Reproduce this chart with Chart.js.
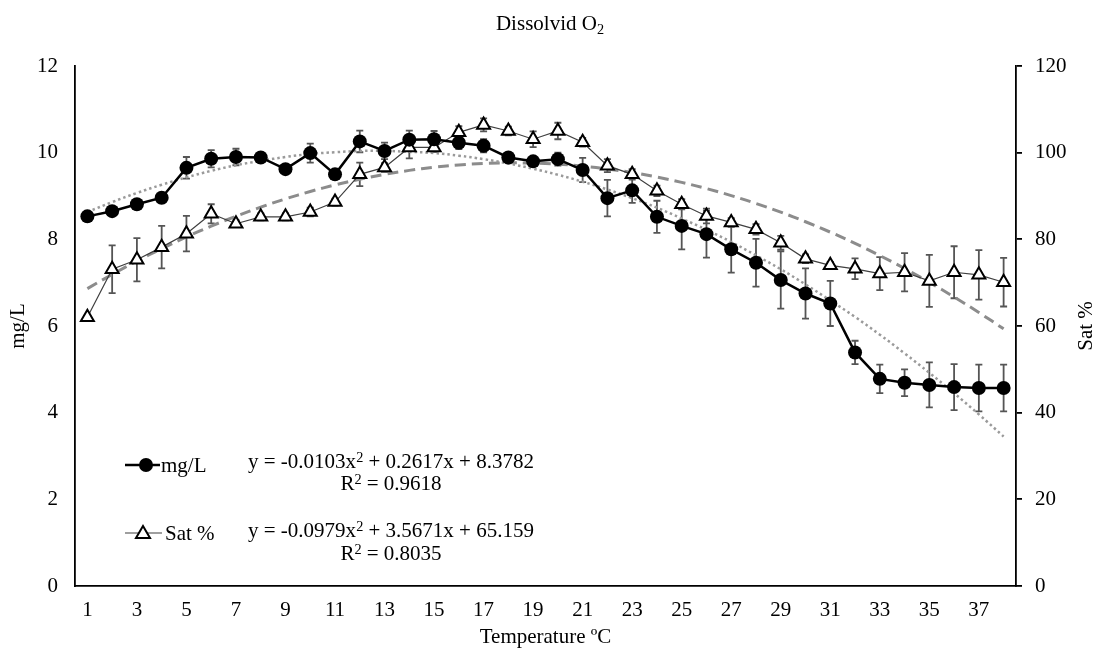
<!DOCTYPE html>
<html>
<head>
<meta charset="utf-8">
<script src="https://cdn.jsdelivr.net/npm/chart.js@4.4.1/dist/chart.umd.min.js"></script>
<style>
  body { margin: 0; background: #fff; }
  #wrap { position: relative; width: 1096px; height: 652px; font-family: "Liberation Serif", "Times New Roman", serif; color: #000; }
  #chart { position: absolute; left: 0; top: 0; }
  .t { position: absolute; white-space: nowrap; font-size: 21px; line-height: 22px; }
  .c { text-align: center; }
  .sup { font-size: 0.68em; position: relative; top: -0.45em; }
  .sub { font-size: 0.68em; position: relative; top: 0.3em; }
  svg { position: absolute; }
</style>
</head>
<body>
<div id="wrap">
  <canvas id="chart" width="1096" height="652"></canvas>

  <div class="t c" style="left:0; width:1100px; top:12px;">Dissolvid O<span class="sub">2</span></div>

  <div class="t" style="left:1074px; top:315px; width:22px; height:22px;">
    <div style="position:absolute; left:-20px; top:0; width:62px; text-align:center; transform:rotate(-90deg);">Sat %</div>
  </div>

  <svg style="left:120px; top:455px;" width="44" height="20">
    <line x1="5" y1="10" x2="40" y2="10" stroke="#000" stroke-width="2.5"/>
    <circle cx="26" cy="10" r="7" fill="#000"/>
  </svg>
  <div class="t" style="left:161px; top:454px;">mg/L</div>
  <div class="t c" style="left:241px; width:300px; top:450px;">y = -0.0103x<span class="sup">2</span> + 0.2617x + 8.3782</div>
  <div class="t c" style="left:241px; width:300px; top:472px;">R<span class="sup">2</span> = 0.9618</div>

  <svg style="left:120px; top:523px;" width="46" height="20">
    <line x1="5" y1="10" x2="42" y2="10" stroke="#404040" stroke-width="1.2"/>
    <polygon points="23,3 30,15 16,15" fill="#fff" stroke="#000" stroke-width="2"/>
  </svg>
  <div class="t" style="left:165px; top:522px;">Sat %</div>
  <div class="t c" style="left:241px; width:300px; top:519px;">y = -0.0979x<span class="sup">2</span> + 3.5671x + 65.159</div>
  <div class="t c" style="left:241px; width:300px; top:542px;">R<span class="sup">2</span> = 0.8035</div>
</div>

<script>
const temps = ['1','2','3','4','5','6','7','8','9','10','11','12','13','14','15','16','17','18','19',
  '20','21','22','23','24','25','26','27','28','29','30','31','32','33','34','35','36','37','38'];

// measured means
const mgL = [8.53, 8.65, 8.81, 8.96, 9.65, 9.86, 9.9, 9.89, 9.62, 9.99, 9.5, 10.26, 10.04, 10.3, 10.31,
  10.23, 10.16, 9.89, 9.8, 9.85, 9.6, 8.95, 9.13, 8.52, 8.31, 8.12, 7.77, 7.46, 7.06, 6.75, 6.52,
  5.39, 4.78, 4.69, 4.64, 4.59, 4.57, 4.57];
const satPct = [62.0, 73.1, 75.3, 78.2, 81.3, 85.9, 83.6, 85.2, 85.2, 86.3, 88.6, 95.0, 96.6, 101.2, 101.2,
  104.7, 106.4, 105.0, 103.1, 105.0, 102.4, 97.0, 95.0, 91.2, 88.1, 85.4, 83.9, 82.3, 79.2, 75.5, 74.0,
  73.2, 72.1, 72.4, 70.4, 72.4, 71.8, 70.1];

// half length of the error bars
const mgErr = [0.05, 0.05, 0.05, 0.05, 0.25, 0.2, 0.19, 0.1, 0.1, 0.22, 0.1, 0.25, 0.19, 0.21, 0.19,
  0.15, 0.15, 0.1, 0.1, 0.15, 0.28, 0.42, 0.29, 0.37, 0.54, 0.54, 0.54, 0.55, 0.66, 0.58, 0.52,
  0.27, 0.33, 0.31, 0.52, 0.53, 0.54, 0.54];
const satErr = [0.5, 5.5, 5.0, 4.9, 4.1, 2.2, 0.8, 0.8, 0.8, 1.0, 0.8, 2.7, 1.0, 2.5, 1.0,
  1.4, 1.5, 1.0, 1.8, 1.9, 1.0, 1.5, 1.2, 1.2, 1.2, 1.7, 1.0, 1.2, 1.6, 1.0, 0.8,
  2.4, 3.8, 4.4, 6.0, 6.0, 5.7, 5.6];

// polynomial trend lines
const mgTrend = [8.63, 8.86, 9.07, 9.26, 9.43, 9.58, 9.71, 9.81, 9.90, 9.97, 10.01, 10.04, 10.04, 10.02,
  9.99, 9.93, 9.85, 9.75, 9.63, 9.49, 9.33, 9.15, 8.95, 8.73, 8.48, 8.22, 7.94, 7.63, 7.31, 6.96,
  6.59, 6.21, 5.80, 5.37, 4.92, 4.45, 3.96, 3.45];
const satTrend = [68.63, 71.90, 74.98, 77.86, 80.55, 83.04, 85.33, 87.43, 89.33, 91.04, 92.55, 93.87,
  94.99, 95.91, 96.64, 97.17, 97.51, 97.65, 97.59, 97.34, 96.89, 96.25, 95.41, 94.38, 93.15, 91.72,
  90.10, 88.28, 86.27, 84.06, 81.66, 79.06, 76.26, 73.27, 70.08, 66.70, 63.12, 59.34];

const mgTicks = [0, 2, 4, 6, 8, 10, 12];
const satTicks = [0, 20, 40, 60, 80, 100, 120];

const FONT = { family: '"Liberation Serif", "Times New Roman", serif', size: 21 };

// error bars are drawn under the markers
const errorBars = {
  id: 'errorBars',
  beforeDatasetsDraw(chart) {
    const ctx = chart.ctx;
    ctx.save();
    ctx.strokeStyle = '#555';
    ctx.lineWidth = 1.8;
    chart.data.datasets.forEach((ds, i) => {
      if (!ds.errors) return;
      const meta = chart.getDatasetMeta(i);
      const yScale = chart.scales[ds.yAxisID];
      meta.data.forEach((pt, j) => {
        const v = ds.data[j], e = ds.errors[j];
        const top = yScale.getPixelForValue(v + e);
        const bot = yScale.getPixelForValue(v - e);
        ctx.beginPath();
        ctx.moveTo(pt.x, top); ctx.lineTo(pt.x, bot);
        ctx.moveTo(pt.x - 3.5, top); ctx.lineTo(pt.x + 3.5, top);
        ctx.moveTo(pt.x - 3.5, bot); ctx.lineTo(pt.x + 3.5, bot);
        ctx.stroke();
      });
    });
    ctx.restore();
  }
};

new Chart(document.getElementById('chart'), {
  type: 'line',
  data: {
    labels: temps,
    datasets: [
      {
        label: 'mg/L', data: mgL, errors: mgErr, yAxisID: 'y', order: 0,
        borderColor: '#000', borderWidth: 2.5,
        pointStyle: 'circle', pointRadius: 7, pointBackgroundColor: '#000', pointBorderWidth: 0
      },
      {
        label: 'Sat %', data: satPct, errors: satErr, yAxisID: 'y1', order: 1,
        borderColor: '#404040', borderWidth: 1.2,
        pointStyle: 'triangle', pointRadius: 7.5, pointBackgroundColor: '#fff',
        pointBorderColor: '#000', pointBorderWidth: 2
      },
      {
        label: 'mg/L trend', data: mgTrend, yAxisID: 'y', order: 2,
        borderColor: '#9a9a9a', borderWidth: 2.5, borderDash: [2.5, 3],
        pointRadius: 0, tension: 0.4
      },
      {
        label: 'Sat % trend', data: satTrend, yAxisID: 'y1', order: 3,
        borderColor: '#8c8c8c', borderWidth: 3, borderDash: [11, 6],
        pointRadius: 0, tension: 0.4
      }
    ]
  },
  options: {
    responsive: false,
    animation: false,
    layout: { padding: { top: 66, left: 0, right: 0, bottom: 0 } },
    plugins: { legend: { display: false }, tooltip: { enabled: false } },
    scales: {
      x: {
        offset: true,
        grid: { display: false, drawTicks: false },
        border: { display: true, color: '#000', width: 1.8 },
        ticks: {
          color: '#000', font: FONT, padding: 12, autoSkip: false, maxRotation: 0,
          callback: (v, i) => (i % 2 === 0 ? temps[i] : '')
        },
        title: { display: true, text: 'Temperature ºC', color: '#000', font: FONT, padding: { top: 0, bottom: 2 } },
        afterFit: (s) => { s.height = 66; }
      },
      y: {
        position: 'left', min: 0, max: 12,
        afterBuildTicks: (s) => { s.ticks = mgTicks.map((v) => ({ value: v })); },
        grid: { display: false, drawTicks: false },
        border: { display: true, color: '#000', width: 1.8 },
        ticks: { color: '#000', font: FONT, padding: 17 },
        title: { display: true, text: 'mg/L', color: '#000', font: FONT, padding: { top: 6, bottom: 0 } },
        afterFit: (s) => { s.width = 75; }
      },
      y1: {
        position: 'right', min: 0, max: 120,
        afterBuildTicks: (s) => { s.ticks = satTicks.map((v) => ({ value: v })); },
        grid: { display: true, drawOnChartArea: false, drawTicks: true, tickLength: 6, color: '#000', lineWidth: 1.8 },
        border: { display: true, color: '#000', width: 1.8 },
        ticks: { color: '#000', font: FONT, padding: 13 },
        afterFit: (s) => { s.width = 80; }
      }
    }
  },
  plugins: [errorBars]
});
</script>
</body>
</html>
